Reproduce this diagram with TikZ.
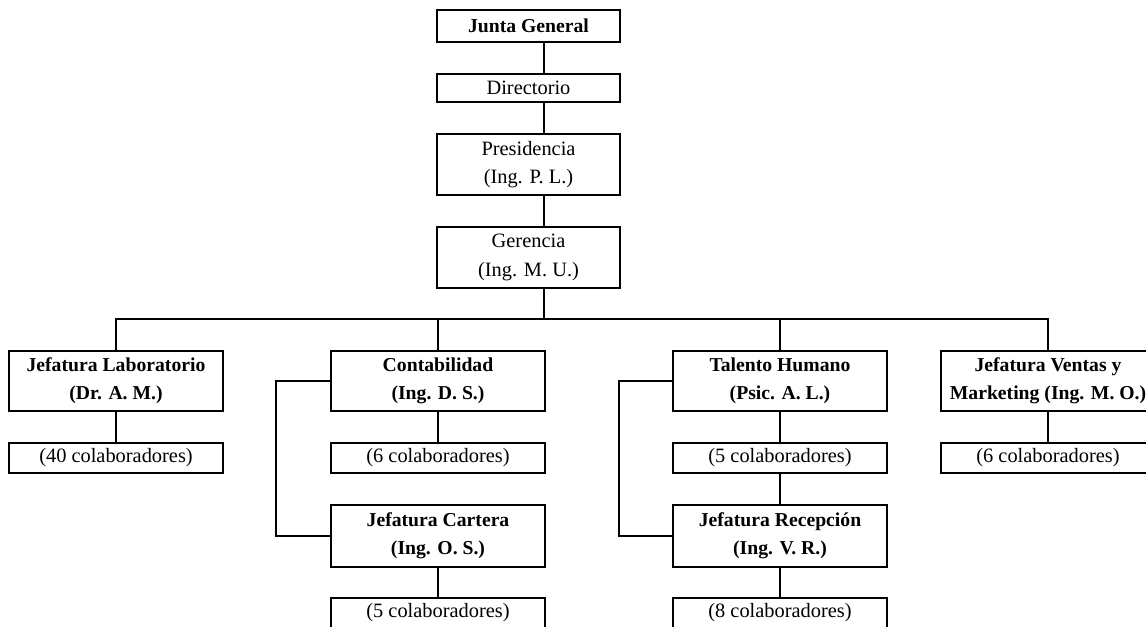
\documentclass[tikz,border=0pt]{standalone}
\usepackage{fontspec}
\setmainfont{Liberation Serif}
\usetikzlibrary{positioning}

\begin{document}
\begin{tikzpicture}[
    x=0.025cm, y=-0.025cm,
    box/.style={rectangle, draw, line width=1.4pt, inner sep=0pt, align=center,
                font=\fontsize{14.5}{20}\selectfont, minimum width=5.35cm, minimum height=1.5cm},
    topbox/.style={box, minimum width=4.575cm},
    headbox/.style={box, font=\fontsize{14}{20}\selectfont\bfseries},
    staffbox/.style={box, minimum height=0.75cm},
    link/.style={line width=1.4pt}
]
    \clip (0,0) rectangle (1146,626);

    % Top of the chart
    \node[topbox, font=\fontsize{14}{20}\selectfont\bfseries, minimum height=0.8cm] (junta) at (528.5,26) {Junta General};
    \node[topbox, minimum height=0.7cm] (dir) at (528.5,88) {Directorio};
    \node[topbox, minimum height=1.525cm] (pres) at (528.5,164.5) {Presidencia\\(Ing. P. L.)};
    \node[topbox, minimum height=1.525cm] (ger) at (528.5,257.5) {Gerencia\\(Ing. M. U.)};
    \coordinate (spine) at (544,0);
    \coordinate (bus) at (0,319);

    % Departments
    \node[headbox] (lab) at (116,381) {Jefatura Laboratorio\\(Dr. A. M.)};
    \node[headbox] (cont) at (438,381) {Contabilidad\\(Ing. D. S.)};
    \node[headbox] (tal) at (780,381) {Talento Humano\\(Psic. A. L.)};
    \node[headbox] (ven) at (1048,381) {Jefatura Ventas y\\Marketing (Ing. M. O.)};

    % Staff under each department
    \node[staffbox] (labstaff) at (116,458) {(40 colaboradores)};
    \node[staffbox] (contstaff) at (438,458) {(6 colaboradores)};
    \node[staffbox] (talstaff) at (780,458) {(5 colaboradores)};
    \node[staffbox] (venstaff) at (1048,458) {(6 colaboradores)};

    % Second level heads
    \node[headbox, minimum height=1.55cm] (cart) at (438,536) {Jefatura Cartera\\(Ing. O. S.)};
    \node[headbox, minimum height=1.55cm] (rec) at (780,536) {Jefatura Recepción\\(Ing. V. R.)};
    \node[staffbox] (cartstaff) at (438,613) {(5 colaboradores)};
    \node[staffbox] (recstaff) at (780,613) {(8 colaboradores)};

    % Vertical spine
    \draw[link] (junta.south -| spine) -- (dir.north -| spine);
    \draw[link] (dir.south -| spine) -- (pres.north -| spine);
    \draw[link] (pres.south -| spine) -- (ger.north -| spine);
    \draw[link] (ger.south -| spine) -- (spine |- bus);

    % Bus to the departments
    \draw[link] (lab.north) -- (lab.north |- bus) -| (ven.north);
    \draw[link] (cont.north) -- (cont.north |- bus);
    \draw[link] (tal.north) -- (tal.north |- bus);

    % Departments to staff
    \draw[link] (lab) -- (labstaff);
    \draw[link] (cont) -- (contstaff);
    \draw[link] (tal) -- (talstaff);
    \draw[link] (ven) -- (venstaff);
    \draw[link] (talstaff) -- (rec);
    \draw[link] (cart) -- (cartstaff);
    \draw[link] (rec) -- (recstaff);

    % Side brackets
    \draw[link] (cont.west) -- ++(-54,0) |- (cart.west);
    \draw[link] (tal.west) -- ++(-53,0) |- (rec.west);
\end{tikzpicture}
\end{document}
